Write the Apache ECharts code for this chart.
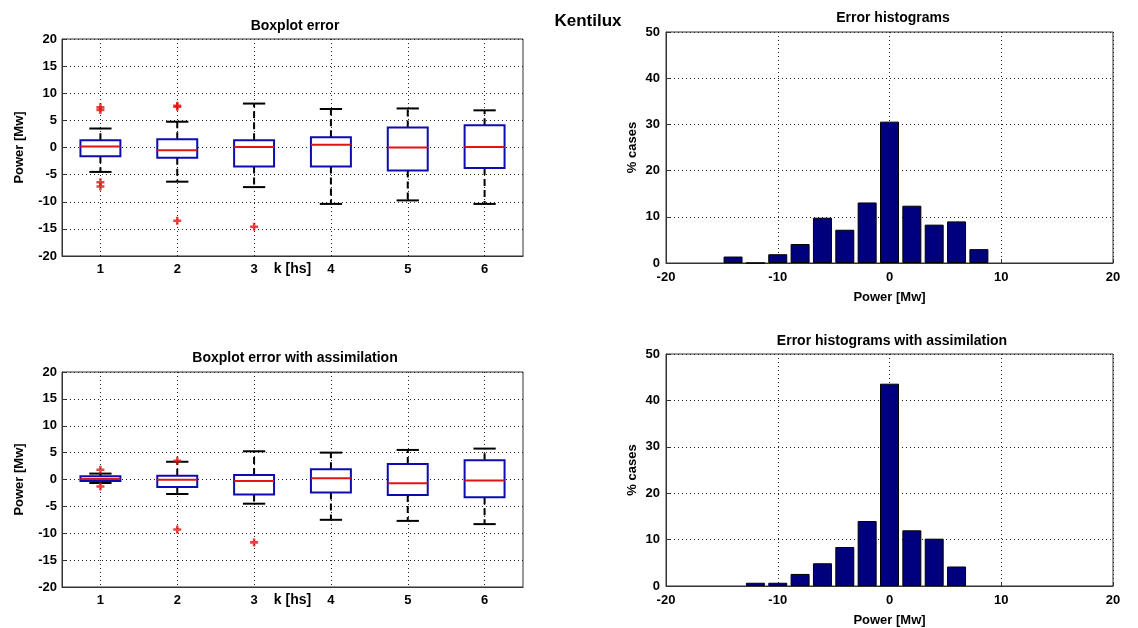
<!DOCTYPE html>
<html>
<head>
<meta charset="utf-8">
<script src="https://cdn.jsdelivr.net/npm/echarts@6.0.0/dist/echarts.min.js"></script>
<style>
  html, body { margin: 0; padding: 0; background: #fff; }
  #main { width: 1138px; height: 628px; }
</style>
</head>
<body>
<div id="main"></div>
<script>
// k [hs] categories
var kLabels = ['1', '2', '3', '4', '5', '6'];

// boxplot error (no assimilation)
var errLow  = [-4.5, -6.3, -7.3, -10.4, -9.75, -10.4];
var errQ1   = [-1.6, -1.9, -3.5, -3.5, -4.25, -3.8];
var errMed  = [0.2, -0.5, 0.1, 0.5, 0, 0.1];
var errQ3   = [1.35, 1.5, 1.35, 1.9, 3.7, 4.1];
var errHigh = [3.5, 4.75, 8.1, 7.1, 7.2, 6.85];
var errOutliers = [[0, 7.4], [0, 6.9], [0, -6.4], [0, -7.2], [1, 7.7], [1, 7.5], [1, -13.5], [2, -14.6]];

// boxplot error with assimilation
var assLow  = [-0.65, -2.7, -4.5, -7.5, -7.7, -8.3];
var assQ1   = [-0.3, -1.4, -2.8, -2.4, -2.9, -3.3];
var assMed  = [0.1, -0.05, -0.3, 0.25, -0.7, -0.2];
var assQ3   = [0.6, 0.7, 0.85, 1.9, 2.9, 3.6];
var assHigh = [1.1, 3.3, 5.25, 5.0, 5.5, 5.75];
var assOutliers = [[0, 1.8], [0, -1.3], [1, 3.5], [1, -9.3], [2, -11.7]];

// histograms (% cases per 2 Mw bin)
var errBins = [-14, -12, -10, -8, -6, -4, -2, 0, 2, 4, 6, 8];
var errPct  = [1.4, 0, 1.9, 4.1, 9.8, 7.2, 13.1, 30.6, 12.4, 8.3, 9.0, 3.0];
var assBins = [-12, -10, -8, -6, -4, -2, 0, 2, 4, 6];
var assPct  = [0.7, 0.7, 2.6, 4.9, 8.4, 14.0, 43.6, 12.0, 10.2, 4.2];

var font = '"Liberation Sans", Arial, sans-serif';
var boxBlue = '#0c0cb0';
var medRed = '#e01414';
var barBlue = '#00007e';
var plusPath = 'path://M3.4,0H6.6V3.4H10V6.6H6.6V10H3.4V6.6H0V3.4H3.4Z';

function boxRows(lo, q1, med, q3, hi) {
  var rows = [];
  for (var i = 0; i < lo.length; i++) {
    rows.push([i, lo[i], q1[i], med[i], q3[i], hi[i]]);
  }
  return rows;
}

function pairs(xs, ys) {
  var out = [];
  for (var i = 0; i < xs.length; i++) out.push([xs[i], ys[i]]);
  return out;
}

function renderBox(params, api) {
  var x = api.value(0);
  var band = api.size([1, 0])[0];
  var hw = band * 0.26;
  var cw = band * 0.145;
  var pLo = api.coord([x, api.value(1)]);
  var pQ1 = api.coord([x, api.value(2)]);
  var pMed = api.coord([x, api.value(3)]);
  var pQ3 = api.coord([x, api.value(4)]);
  var pHi = api.coord([x, api.value(5)]);
  var cx = pMed[0];
  var dash = { stroke: '#000', lineWidth: 2, lineDash: [7, 4] };
  var solid = { stroke: '#000', lineWidth: 2 };
  return {
    type: 'group',
    children: [
      { type: 'line', shape: { x1: cx, y1: pQ3[1], x2: cx, y2: pHi[1] }, style: dash },
      { type: 'line', shape: { x1: cx, y1: pQ1[1], x2: cx, y2: pLo[1] }, style: dash },
      { type: 'line', shape: { x1: cx - cw, y1: pHi[1], x2: cx + cw, y2: pHi[1] }, style: solid },
      { type: 'line', shape: { x1: cx - cw, y1: pLo[1], x2: cx + cw, y2: pLo[1] }, style: solid },
      { type: 'rect', shape: { x: cx - hw, y: pQ3[1], width: hw * 2, height: pQ1[1] - pQ3[1] },
        style: { fill: '#fff', stroke: boxBlue, lineWidth: 2 } },
      { type: 'line', shape: { x1: cx - hw, y1: pMed[1], x2: cx + hw, y2: pMed[1] },
        style: { stroke: medRed, lineWidth: 2 } }
    ]
  };
}

var labelStyle = { color: '#000', fontFamily: font, fontWeight: 'bold', fontSize: 13 };
var nameStyle = { color: '#000', fontFamily: font, fontWeight: 'bold', fontSize: 13 };
var gridLine = { show: true, lineStyle: { color: '#222', type: [1, 3], width: 1 } };

function catAxis(gridIndex) {
  return {
    type: 'category', gridIndex: gridIndex, data: kLabels,
    name: 'k [hs]', nameLocation: 'middle', nameGap: 6, nameMoveOverlap: false,
    nameTextStyle: { color: '#000', fontFamily: font, fontWeight: 'bold', fontSize: 14 },
    axisLine: { onZero: false, lineStyle: { color: '#333', width: 1 } },
    axisTick: { inside: true, alignWithLabel: true, length: 4, lineStyle: { color: '#333' } },
    axisLabel: Object.assign({ margin: 7 }, labelStyle),
    splitLine: Object.assign({ alignWithLabel: true }, gridLine)
  };
}

function boxY(gridIndex) {
  return {
    type: 'value', gridIndex: gridIndex, min: -20, max: 20, interval: 5,
    name: 'Power [Mw]', nameLocation: 'middle', nameGap: 36, nameTextStyle: nameStyle,
    axisLine: { show: true, onZero: false, lineStyle: { color: '#333', width: 1 } },
    axisTick: { show: true, inside: true, length: 4, lineStyle: { color: '#333' } },
    axisLabel: Object.assign({ margin: 5 }, labelStyle),
    splitLine: gridLine
  };
}

function histX(gridIndex) {
  return {
    type: 'value', gridIndex: gridIndex, min: -20, max: 20, interval: 10,
    name: 'Power [Mw]', nameLocation: 'middle', nameGap: 28, nameTextStyle: nameStyle,
    axisLine: { onZero: false, lineStyle: { color: '#333', width: 1 } },
    axisTick: { inside: true, length: 4, lineStyle: { color: '#333' } },
    axisLabel: Object.assign({ margin: 8 }, labelStyle),
    splitLine: gridLine
  };
}

function histY(gridIndex) {
  return {
    type: 'value', gridIndex: gridIndex, min: 0, max: 50, interval: 10,
    name: '% cases', nameLocation: 'middle', nameGap: 27, nameTextStyle: nameStyle,
    axisLine: { show: true, onZero: false, lineStyle: { color: '#333', width: 1 } },
    axisTick: { show: true, inside: true, length: 4, lineStyle: { color: '#333' } },
    axisLabel: Object.assign({ margin: 6 }, labelStyle),
    splitLine: gridLine
  };
}

var titleFont = { color: '#000', fontFamily: font, fontWeight: 'bold', fontSize: 14 };

var chart = echarts.init(document.getElementById('main'));

var option = {
  backgroundColor: '#fff',
  animation: false,
  title: [
    { text: 'Kentilux', left: 583, top: 8, textAlign: 'center',
      textStyle: { color: '#000', fontFamily: font, fontWeight: 'bold', fontSize: 17 } },
    { text: 'Boxplot error', left: 290, top: 14, textAlign: 'center', textStyle: titleFont },
    { text: 'Error histograms', left: 888, top: 6, textAlign: 'center', textStyle: titleFont },
    { text: 'Boxplot error with assimilation', left: 290, top: 346, textAlign: 'center', textStyle: titleFont },
    { text: 'Error histograms with assimilation', left: 887, top: 329, textAlign: 'center', textStyle: titleFont }
  ],
  grid: [
    { left: 62, top: 39, width: 461, height: 217, show: true, borderColor: '#333', borderWidth: 1 },
    { left: 62, top: 372, width: 461, height: 215, show: true, borderColor: '#333', borderWidth: 1 },
    { left: 666, top: 32, width: 447, height: 231, show: true, borderColor: '#333', borderWidth: 1 },
    { left: 666, top: 354, width: 447, height: 233, show: true, borderColor: '#333', borderWidth: 1 }
  ],
  xAxis: [catAxis(0), catAxis(1), histX(2), histX(3)],
  yAxis: [boxY(0), boxY(1), histY(2), histY(3)],
  series: [
    {
      type: 'custom', xAxisIndex: 0, yAxisIndex: 0,
      renderItem: renderBox,
      encode: { x: 0, y: [1, 2, 3, 4, 5] },
      data: boxRows(errLow, errQ1, errMed, errQ3, errHigh)
    },
    {
      type: 'scatter', xAxisIndex: 0, yAxisIndex: 0,
      symbol: plusPath, symbolSize: 8,
      itemStyle: { color: medRed },
      data: errOutliers
    },
    {
      type: 'custom', xAxisIndex: 1, yAxisIndex: 1,
      renderItem: renderBox,
      encode: { x: 0, y: [1, 2, 3, 4, 5] },
      data: boxRows(assLow, assQ1, assMed, assQ3, assHigh)
    },
    {
      type: 'scatter', xAxisIndex: 1, yAxisIndex: 1,
      symbol: plusPath, symbolSize: 8,
      itemStyle: { color: medRed },
      data: assOutliers
    },
    {
      type: 'bar', xAxisIndex: 2, yAxisIndex: 2, barWidth: 19,
      itemStyle: { color: barBlue, borderColor: '#000', borderWidth: 1 },
      data: pairs(errBins, errPct)
    },
    {
      type: 'bar', xAxisIndex: 3, yAxisIndex: 3, barWidth: 19,
      itemStyle: { color: barBlue, borderColor: '#000', borderWidth: 1 },
      data: pairs(assBins, assPct)
    }
  ]
};

chart.setOption(option);
</script>
</body>
</html>
